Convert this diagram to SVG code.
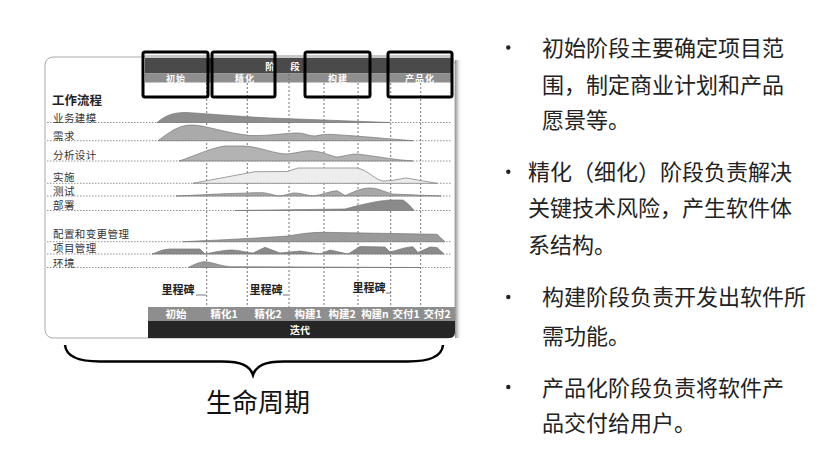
<svg xmlns="http://www.w3.org/2000/svg" width="839" height="461" viewBox="0 0 839 461">
<defs>
<style>
.cjk{font-family:"Noto Sans CJK SC","Noto Sans",sans-serif}
.row{font-family:"Noto Sans CJK SC",sans-serif;font-size:10.5px;fill:#333;letter-spacing:0.4px}
.hw{font-family:"Noto Sans CJK SC",sans-serif;font-weight:bold;fill:#fff;text-anchor:middle}
.ms{font-family:"Noto Sans CJK SC",sans-serif;font-size:11px;fill:#222;text-anchor:middle;font-weight:bold}
.hl{fill:none;stroke:#777;stroke-width:0.8;stroke-dasharray:1.5 1.5}
.vl{fill:none;stroke:#666;stroke-width:0.9;stroke-dasharray:2 2}
.crv{stroke:#777;stroke-width:0.7}
.box{fill:none;stroke:#000;stroke-width:3}
.bt{font-family:"Noto Sans CJK SC",sans-serif;font-size:22px;fill:#222}
.bul{fill:#222}
</style>
<linearGradient id="shadow" x1="0" x2="1" y1="0" y2="0">
<stop offset="0" stop-color="#888"/>
<stop offset="1" stop-color="#fff" stop-opacity="0"/>
</linearGradient>
</defs>
<rect width="839" height="461" fill="#fff"/>

<g id="panel">
<rect x="455" y="60" width="7" height="278" fill="url(#shadow)"/>
<rect x="45" y="57" width="410" height="281" rx="8" fill="#fff" stroke="#aaa" stroke-width="1"/>
</g>

<g id="header">
<rect x="145" y="55" width="308" height="3" fill="#c8c8c8"/>
<rect x="145" y="58" width="308" height="15.5" fill="#4a4a4a"/>
<rect x="145" y="73.5" width="308" height="9" fill="#8e8e8e"/>
<text class="hw" x="270" y="70" font-size="9.5">阶</text>
<text class="hw" x="295" y="70" font-size="9.5">段</text>
<text class="hw" x="176" y="81.8" font-size="9" letter-spacing="1">初始</text>
<text class="hw" x="245" y="81.8" font-size="9" letter-spacing="1">精化</text>
<text class="hw" x="338" y="81.8" font-size="9" letter-spacing="1">构建</text>
<text class="hw" x="420" y="81.8" font-size="9" letter-spacing="1">产品化</text>
</g>

<g id="grid">
<path class="hl" d="M47,122.5H452M47,140.7H452M47,161H452M47,183.3H452M47,196H452M47,210.5H452M47,241.7H452M47,254H452M47,267.5H452"/>
<path class="vl" d="M206.7,83V307M247.3,83V307M289,74V307M324,83V307M358,83V307M390.7,83V307M420.7,83V307"/>
</g>

<g id="labels">
<text class="cjk" x="52" y="104.5" font-size="12.5" font-weight="bold" fill="#222">工作流程</text>
<text class="row" x="53" y="121.5">业务建模</text>
<text class="row" x="53" y="139.5">需求</text>
<text class="row" x="53" y="159">分析设计</text>
<text class="row" x="53" y="180.5">实施</text>
<text class="row" x="53" y="194.5">测试</text>
<text class="row" x="53" y="208.5">部署</text>
<text class="row" x="53" y="238">配置和变更管理</text>
<text class="row" x="53" y="252">项目管理</text>
<text class="row" x="53" y="267">环境</text>
</g>

<g id="curves">
<path class="crv" fill="#8d8d8d" d="M157,122.5 C165,116 172,112.5 185,112.5 C200,113 230,116 270,118 L390,122.5 Z"/>
<path class="crv" fill="#aaaaaa" d="M158,140.7 C170,132 178,125 192,125 C205,125 225,133 250,135.5 C270,136 285,133 298,133 C305,133 308,136 315,136 C320,135 325,134 333,134.5 C360,136 390,139 413,140.7 Z"/>
<path class="crv" fill="#b3b3b3" d="M179,161 C195,156 210,148 225,146 L245,146 C260,147 275,154 287,154 C298,153 305,150 313,151 C325,152 332,157 338,157 C345,156 350,154 357,154 C375,156 395,160 413,161 Z"/>
<path fill="#ededed" stroke="#888" stroke-width="0.8" d="M193,183.3 L255,171.7 L287,171.5 L298,168 L357,168 C368,170 375,180 383,181 L392,180.5 L406,178 L437,183.3 Z"/>
<path class="crv" fill="#a8a8a8" d="M176,196 C200,195 225,193.5 239,193.3 C250,193 255,192.5 262,192.7 C270,193 275,196 280,196 C287,195 290,193 295,193 C302,193 308,196 313,196 C322,195 330,191 337,190.7 L345,195.5 C352,193 360,188 370,188 C378,188 385,192 392,194 L441,196 Z"/>
<path class="crv" fill="#8a8a8a" d="M235,210.5 L345,209 C360,205 375,201 390,200 L403,200 C408,203 411,207 414,210.5 Z"/>
<path class="crv" fill="#9a9a9a" d="M183,241.7 C220,240 260,238 288,236 C300,234 310,232.3 323,232.3 L437,234.3 L445,241.7 Z"/>
<path class="crv" fill="#8a8a8a" d="M152,254 C158,252 163,249 170,249 L200,249 L205,254 C215,252 225,250 232,250 C240,250 247,253 253,253 L265,247.3 L280,253 L300,251 L320,254 L330,250 L348,254 L360,246.5 L385,247 L390,252 C398,250 405,247 413,246.7 L418,252.5 L430,247 L437,247.5 L444,254 Z"/>
<path class="crv" fill="#999" d="M188,267.5 C195,264 200,261.7 205,261.7 C212,262 220,266 230,266.7 L420,267.5 Z"/>
</g>

<g id="milestones">
<text class="ms" x="178" y="294">里程碑</text>
<text class="ms" x="266" y="294">里程碑</text>
<text class="ms" x="369" y="292">里程碑</text>
<path d="M196,295H206M283,295H288M386,293H391" stroke="#555" stroke-width="0.8" fill="none"/>
</g>

<g id="iterations">
<rect x="148" y="307" width="307" height="14" fill="#8e8e8e"/>
<path d="M148,321 H455 V332 Q455,338 449,338 H148 Z" fill="#262626"/>
<text class="hw" x="176" y="318" font-size="10.5">初始</text>
<text class="hw" x="224" y="318" font-size="10.5">精化1</text>
<text class="hw" x="268" y="318" font-size="10.5">精化2</text>
<text class="hw" x="308" y="318" font-size="10.5">构建1</text>
<text class="hw" x="342" y="318" font-size="10.5">构建2</text>
<text class="hw" x="375" y="318" font-size="10.5">构建n</text>
<text class="hw" x="406" y="318" font-size="10.5">交付1</text>
<text class="hw" x="437" y="318" font-size="10.5">交付2</text>
<text class="hw" x="300" y="334" font-size="10">迭代</text>
</g>

<g id="highlights">
<rect class="box" x="143" y="52" width="65" height="45" rx="2"/>
<rect class="box" x="212" y="52" width="63" height="45" rx="2"/>
<rect class="box" x="305" y="52" width="65" height="45" rx="2"/>
<rect class="box" x="388" y="52" width="64" height="45" rx="2"/>
</g>

<g id="lifecycle">
<path d="M65,345 C66,356 78,361.5 100,361.5 L222,361.5 C242,361.5 250,366 253,375 C256,366 264,361.5 284,361.5 L408,361.5 C430,361.5 442,356 443,345" fill="none" stroke="#000" stroke-width="2.5"/>
<text class="cjk" x="258" y="411.5" font-size="26" fill="#111" text-anchor="middle">生命周期</text>
</g>

<g id="bullets">
<circle class="bul" cx="508.3" cy="47.5" r="2.2"/>
<circle class="bul" cx="508.3" cy="171.7" r="2.2"/>
<circle class="bul" cx="508.3" cy="297" r="2.2"/>
<circle class="bul" cx="508.3" cy="387" r="2.2"/>
<text class="bt" x="542" y="56.4">初始阶段主要确定项目范</text>
<text class="bt" x="542" y="93.4">围，制定商业计划和产品</text>
<text class="bt" x="542" y="128.4">愿景等。</text>
<text class="bt" x="528" y="180.4">精化（细化）阶段负责解决</text>
<text class="bt" x="528" y="216.4">关键技术风险，产生软件体</text>
<text class="bt" x="528" y="253.4">系结构。</text>
<text class="bt" x="542" y="305.4">构建阶段负责开发出软件所</text>
<text class="bt" x="542" y="344.4">需功能。</text>
<text class="bt" x="542" y="396.4">产品化阶段负责将软件产</text>
<text class="bt" x="542" y="431.4">品交付给用户。</text>
</g>
</svg>
